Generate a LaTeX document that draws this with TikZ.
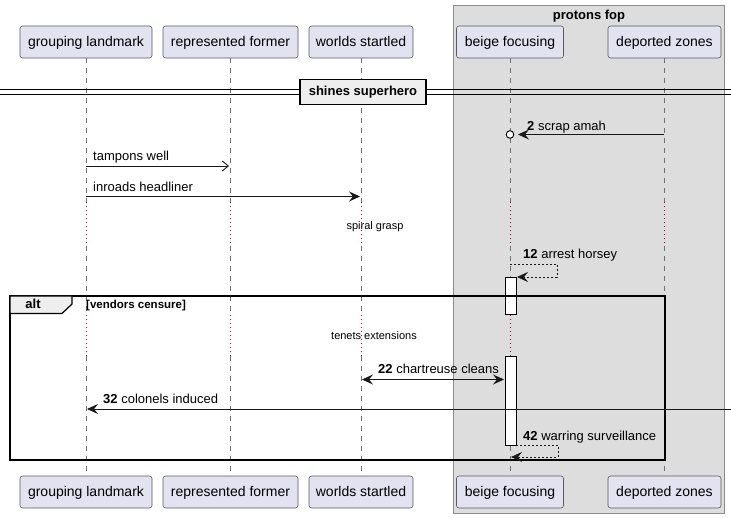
\documentclass[tikz,border=0pt]{standalone}
\usepackage{fontspec}
\setmainfont{Liberation Sans}
\usetikzlibrary{arrows.meta}
\definecolor{partfill}{HTML}{E2E2F0}
\definecolor{partline}{HTML}{5A5A5A}
\definecolor{grpfill}{HTML}{DDDDDD}
\definecolor{grpline}{HTML}{8C8C8C}
\definecolor{lifeline}{HTML}{707070}
\definecolor{delayred}{HTML}{A80036}
\definecolor{tabfill}{HTML}{EEEEEE}
\tikzset{
  part/.style={draw=partline, fill=partfill, rounded corners=2.5pt, minimum height=32pt, inner sep=0pt, text height=10pt, text depth=1pt, font=\fontsize{14}{16}\selectfont, line width=0.6pt},
  life/.style={draw=lifeline, dash pattern=on 5pt off 5pt, line width=0.6pt},
  delayline/.style={draw=delayred, dash pattern=on 1.5pt off 2.5pt, line width=0.9pt},
  msg/.style={draw=black!90, line width=0.9pt},
  fillarrow/.style={-{Stealth[length=11pt,width=10pt,inset=4pt]}},
  openarrow/.style={-{Straight Barb[length=6pt,width=10pt,line width=0.9pt]}},
  selfmsg/.style={draw=black!90, line width=0.7pt, dash pattern=on 2pt off 2pt},
  lbl/.style={font=\fontsize{13}{15}\selectfont, inner sep=0pt, anchor=base west},
  delaytxt/.style={font=\fontsize{11}{13}\selectfont, inner sep=0pt, anchor=base},
  actbar/.style={draw=black, fill=white, line width=0.8pt},
}
\begin{document}
\begin{tikzpicture}[x=1pt,y=-1pt]
\useasboundingbox (0,0) rectangle (731,518);
\fill[white] (0,0) rectangle (731,518);
% group box
\draw[fill=grpfill, draw=grpline, line width=0.8pt] (453,5) rectangle (724,513);
\node[font=\bfseries\fontsize{13}{15}\selectfont, anchor=base] (grp) at (589,20) {protons fop};
% participants top
\node[part, minimum width=132pt] (glT) at (86,42) {grouping landmark};
\node[part, minimum width=135pt] (rfT) at (230.5,42) {represented former};
\node[part, minimum width=104pt] (wsT) at (361,42) {worlds startled};
\node[part, minimum width=107pt] (bfT) at (510,42) {beige focusing};
\node[part, minimum width=113pt] (dzT) at (664.5,42) {deported zones};
% participants bottom
\node[part, minimum width=132pt] (glB) at (86,492) {grouping landmark};
\node[part, minimum width=135pt] (rfB) at (230.5,492) {represented former};
\node[part, minimum width=104pt] (wsB) at (361,492) {worlds startled};
\node[part, minimum width=107pt] (bfB) at (510,492) {beige focusing};
\node[part, minimum width=113pt] (dzB) at (664.5,492) {deported zones};
% lifelines (dashed) with delay (dotted) gaps
\foreach \p/\x in {gl/86,rf/230,ws/361,bf/510,dz/664}{
  \draw[life] (\x,58) -- (\x,202);
  \draw[delayline] (\x,202) -- (\x,246);
  \draw[life] (\x,246) -- (\x,315);
  \draw[delayline] (\x,315) -- (\x,356);
  \draw[life] (\x,356) -- (\x,476);
}
% divider
\draw[line width=0.9pt] (0,89.5) -- (731,89.5);
\draw[line width=0.9pt] (0,94) -- (731,94);
\node[draw=black, fill=tabfill, line width=1.6pt, minimum width=126pt, minimum height=25pt, inner sep=0pt, font=\bfseries\fontsize{13}{15}\selectfont] (div) at (363,92) {shines superhero};
% message 2: scrap amah
\coordinate (m2s) at (664,134.5);
\coordinate (m2e) at (518,134.5);
\draw[msg, fillarrow] (m2s) -- (m2e);
\draw[line width=0.9pt, fill=white] (510,134.5) circle (3.8pt);
\node[lbl] (l2) at (527,131) {\textbf{2} scrap amah};
% tampons well
\coordinate (m3s) at (86,166);
\coordinate (m3e) at (229,166);
\draw[msg, openarrow] (m3s) -- (m3e);
\node[lbl] (l3) at (93,161) {tampons well};
% inroads headliner
\coordinate (m4s) at (86,196.5);
\coordinate (m4e) at (360,196.5);
\draw[msg, fillarrow] (m4s) -- (m4e);
\node[lbl] (l4) at (93,191.5) {inroads headliner};
% delay spiral grasp
\node[delaytxt] (d1) at (375,230) {spiral grasp};
% activation bars
\draw[actbar] (505,277) rectangle (516,314);
\draw[actbar] (505,356) rectangle (516,445);
% self msg 12
\coordinate (m12s) at (510,264);
\coordinate (m12e) at (517,277);
\draw[selfmsg, fillarrow] (m12s) -- (557,264) -- (557,277) -- (m12e);
\node[lbl] (l12) at (523,259) {\textbf{12} arrest horsey};
% alt frame
\draw[line width=2pt] (10,296) rectangle (665,460);
\draw[fill=tabfill, line width=1.2pt] (10,296) -- (72,296) -- (72,304) -- (62,313.5) -- (10,313.5) -- cycle;
\node[font=\bfseries\fontsize{13}{15}\selectfont, anchor=base] (alt) at (33,309) {alt};
\node[font=\bfseries\fontsize{11.5}{13}\selectfont, anchor=base west, inner sep=0pt] (guard) at (86,309) {[vendors censure]};
% delay tenets extensions
\node[delaytxt] (d2) at (374,340) {tenets extensions};
% 22 chartreuse cleans
\coordinate (m22s) at (362,379.5);
\coordinate (m22e) at (504,379.5);
\draw[msg, {Stealth[length=11pt,width=10pt,inset=4pt]}-{Stealth[length=11pt,width=10pt,inset=4pt]}] (m22s) -- (m22e);
\node[lbl] (l22) at (378,374) {\textbf{22} chartreuse cleans};
% 32 colonels induced
\coordinate (m32s) at (731,409);
\coordinate (m32e) at (87,409);
\draw[msg, fillarrow] (m32s) -- (m32e);
\node[lbl] (l32) at (103,404) {\textbf{32} colonels induced};
% self msg 42
\coordinate (m42s) at (516,445);
\coordinate (m42e) at (511,457);
\draw[selfmsg, fillarrow] (m42s) -- (558,445) -- (558,457) -- (m42e);
\node[lbl] (l42) at (523,440) {\textbf{42} warring surveillance};
\end{tikzpicture}
\end{document}
